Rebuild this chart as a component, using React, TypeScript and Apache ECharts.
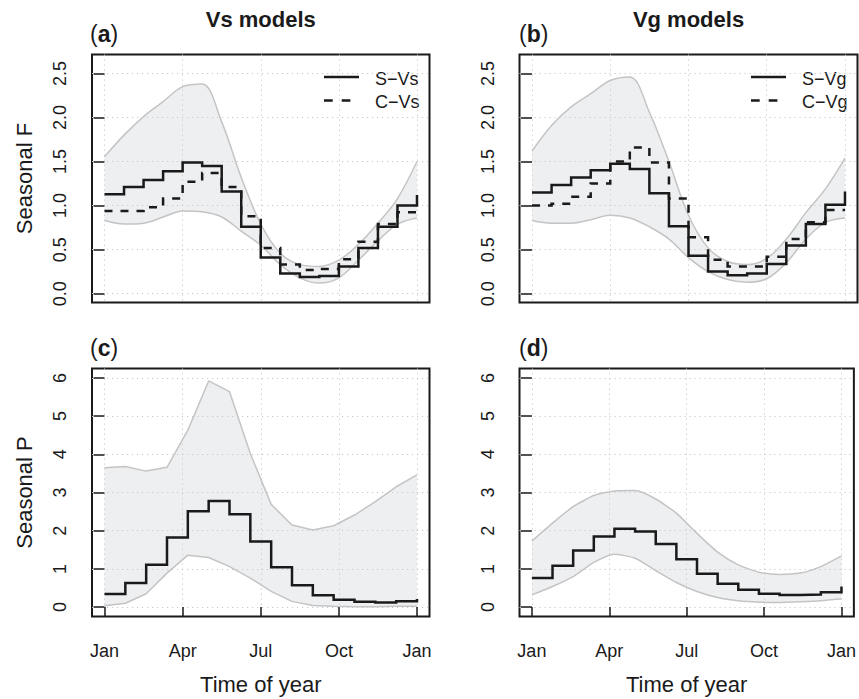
import React, { useEffect, useRef } from 'react';
import * as echarts from 'echarts';

const FONT = '"Liberation Sans", Arial, Helvetica, sans-serif';
const INK = '#1a1a1a';
const BAND_EDGE = '#c4c4c4';
const BAND_FILL = 'rgba(202,205,212,0.32)';
const GRID_DOT = '#c8c8c8';

// Axis ticks
const MONTH_TICKS = [0, 3, 6, 9, 12];
const MONTH_LABELS = ['Jan', 'Apr', 'Jul', 'Oct', 'Jan'];
const F_TICKS = [0, 0.5, 1, 1.5, 2, 2.5];
const P_TICKS = [0, 1, 2, 3, 4, 5, 6];

// Step boundaries (months since Jan)
const F_X = [0, 0.75, 1.5, 2.25, 3, 3.75, 4.5, 5.25, 6, 6.75, 7.5, 8.25, 9, 9.75, 10.5, 11.25, 12];
const P_X = [0, 0.8, 1.6, 2.4, 3.2, 4, 4.8, 5.6, 6.4, 7.2, 8, 8.8, 9.6, 10.4, 11.2, 12];

// (a) Vs models, Seasonal F
const A_S_VS = [1.13, 1.21, 1.29, 1.39, 1.49, 1.45, 1.16, 0.76, 0.41, 0.23, 0.19, 0.2, 0.31, 0.52, 0.76, 1.0, 1.12];
const A_C_VS = [0.94, 0.94, 0.98, 1.08, 1.27, 1.37, 1.21, 0.88, 0.52, 0.33, 0.27, 0.28, 0.39, 0.59, 0.79, 0.925, 0.93];
const A_UPPER = [1.555, 1.8, 2.01, 2.18, 2.35, 2.38, 1.95, 1.32, 0.79, 0.46, 0.33, 0.31, 0.38, 0.56, 0.8, 1.08, 1.5];
const A_LOWER = [0.83, 0.79, 0.8, 0.87, 0.94, 0.93, 0.87, 0.71, 0.55, 0.33, 0.18, 0.12, 0.18, 0.38, 0.6, 0.79, 0.86];

// (b) Vg models, Seasonal F
const B_S_VG = [1.15, 1.235, 1.32, 1.4, 1.475, 1.415, 1.14, 0.765, 0.43, 0.253, 0.21, 0.23, 0.336, 0.547, 0.79, 1.01, 1.16];
const B_C_VG = [1.0, 1.02, 1.1, 1.25, 1.5, 1.66, 1.49, 1.08, 0.64, 0.385, 0.31, 0.31, 0.42, 0.62, 0.81, 0.95, 0.95];
const B_UPPER = [1.62, 1.91, 2.12, 2.27, 2.42, 2.46, 2.06, 1.5, 0.89, 0.52, 0.365, 0.33, 0.4, 0.62, 0.92, 1.19, 1.54];
const B_LOWER = [0.83, 0.8, 0.8, 0.84, 0.89, 0.86, 0.76, 0.62, 0.41, 0.25, 0.16, 0.13, 0.17, 0.35, 0.62, 0.81, 0.86];

// (c) Vs models, Seasonal P
const C_S = [0.34, 0.63, 1.11, 1.82, 2.51, 2.78, 2.43, 1.72, 1.04, 0.57, 0.31, 0.19, 0.14, 0.12, 0.15, 0.21];
const C_UPPER = [3.65, 3.68, 3.56, 3.66, 4.63, 5.92, 5.64, 4.02, 2.69, 2.15, 2.02, 2.13, 2.41, 2.76, 3.15, 3.46];
const C_LOWER = [0.035, 0.1, 0.35, 0.89, 1.36, 1.3, 1.06, 0.76, 0.41, 0.15, 0.044, 0.02, 0.01, 0.01, 0.02, 0.02];

// (d) Vg models, Seasonal P
const D_S = [0.76, 1.08, 1.48, 1.85, 2.05, 1.98, 1.655, 1.254, 0.87, 0.61, 0.453, 0.348, 0.314, 0.33, 0.39, 0.54];
const D_UPPER = [1.73, 2.2, 2.63, 2.92, 3.04, 3.05, 2.83, 2.46, 1.93, 1.44, 1.106, 0.915, 0.854, 0.89, 1.06, 1.34];
const D_LOWER = [0.32, 0.54, 0.8, 1.17, 1.385, 1.28, 0.958, 0.645, 0.41, 0.25, 0.165, 0.13, 0.122, 0.139, 0.165, 0.218];

const pairs = (xs: number[], ys: number[]) => xs.map((x, i) => [x, ys[i]]);
// value first, month second: keeps the stack on the value dimension
const valueFirst = (xs: number[], ys: number[]) => xs.map((x, i) => [ys[i], x]);
const diff = (up: number[], lo: number[]) => up.map((u, i) => +(u - lo[i]).toFixed(4));

const GRIDS = [
  { left: 92, top: 54.5, width: 337.5, height: 248 },
  { left: 519.5, top: 54.5, width: 338, height: 248 },
  { left: 92, top: 368.5, width: 337.5, height: 248 },
  { left: 519.5, top: 368.5, width: 338, height: 248 },
];

function bandSeries(idx: number, xs: number[], up: number[], lo: number[], smooth: number | boolean) {
  const common = {
    type: 'line',
    xAxisIndex: idx,
    yAxisIndex: idx,
    stack: 'band' + idx,
    symbol: 'none',
    smooth,
    silent: true,
    z: 2,
    dimensions: ['v', 'm'],
    encode: { x: 'm', y: 'v' },
    lineStyle: { color: BAND_EDGE, width: 1.5 },
  };
  return [
    { ...common, name: 'lower' + idx, data: valueFirst(xs, lo) },
    { ...common, name: 'upper' + idx, data: valueFirst(xs, diff(up, lo)), areaStyle: { color: BAND_FILL, opacity: 1 } },
  ];
}

function stepSeries(idx: number, name: string, xs: number[], ys: number[], dashed: boolean) {
  return {
    type: 'line',
    name,
    xAxisIndex: idx,
    yAxisIndex: idx,
    step: 'end',
    symbol: 'none',
    z: 4,
    data: pairs(xs, ys),
    lineStyle: { color: INK, width: 2.5, type: dashed ? [8, 8] : 'solid', cap: 'butt', join: 'miter' },
  };
}

const dotted = { color: GRID_DOT, width: 1, type: [1.2, 3.8] };

function xAxisFor(idx: number, showLabels: boolean) {
  return {
    type: 'value',
    gridIndex: idx,
    min: -0.48,
    max: 12.48,
    splitNumber: 5,
    axisLine: { show: false },
    axisTick: {
      show: showLabels,
      customValues: MONTH_TICKS,
      length: 10,
      lineStyle: { color: INK, width: 1.5 },
    },
    axisLabel: {
      show: showLabels,
      customValues: MONTH_TICKS,
      formatter: (v: number) => MONTH_LABELS[MONTH_TICKS.indexOf(Math.round(v))] ?? '',
      margin: 25,
      fontSize: 18,
      fontFamily: FONT,
      color: INK,
    },
    splitLine: { show: true, lineStyle: dotted },
    name: showLabels ? 'Time of year' : '',
    nameLocation: 'middle',
    nameGap: 57,
    nameTextStyle: { fontSize: 22, fontFamily: FONT, color: INK },
  };
}

function yAxisFor(idx: number, isF: boolean, name: string) {
  const ticks = isF ? F_TICKS : P_TICKS;
  return {
    type: 'value',
    gridIndex: idx,
    min: isF ? -0.1 : -0.246,
    max: isF ? 2.715 : 6.246,
    splitNumber: 5,
    axisLine: { show: false },
    axisTick: { show: true, customValues: ticks, length: 11, lineStyle: { color: INK, width: 1.5 } },
    axisLabel: {
      customValues: ticks,
      rotate: 90,
      margin: 23,
      fontSize: 18,
      fontFamily: FONT,
      color: INK,
      formatter: (v: number) => (isF ? v.toFixed(1) : String(Math.round(v))),
    },
    splitLine: { show: true, lineStyle: dotted },
    name,
    nameLocation: 'middle',
    nameGap: 57,
    nameTextStyle: { fontSize: 22, fontFamily: FONT, color: INK },
  };
}

function panelLabel(letter: string, x: number, y: number) {
  return {
    type: 'text',
    x,
    y,
    style: {
      text: '{r|(}{b|' + letter + '}{r|)}',
      textVerticalAlign: 'middle',
      fill: INK,
      rich: {
        r: { fontSize: 23, fontFamily: FONT, fill: INK, color: INK },
        b: { fontSize: 23, fontFamily: FONT, fontWeight: 'bold', fill: INK, color: INK },
      },
    },
  };
}

function legend(x0: number, tx: number, s: string, c: string) {
  return [
    { type: 'line', shape: { x1: x0, y1: 77, x2: x0 + 35, y2: 77 }, style: { stroke: INK, lineWidth: 2.5 } },
    { type: 'line', shape: { x1: x0, y1: 100.5, x2: x0 + 26.5, y2: 100.5 }, style: { stroke: INK, lineWidth: 2.5, lineDash: [8.7, 9] } },
    { type: 'text', x: tx, y: 78.5, style: { text: s, fontSize: 18, fontFamily: FONT, fill: INK, textVerticalAlign: 'middle' } },
    { type: 'text', x: tx, y: 101.5, style: { text: c, fontSize: 18, fontFamily: FONT, fill: INK, textVerticalAlign: 'middle' } },
  ];
}

export default function App() {
  const ref = useRef<HTMLDivElement>(null);
  useEffect(() => {
    if (!ref.current) return;
    const chart = echarts.init(ref.current, undefined, { renderer: 'svg' });
    const option = {
      animation: false,
      backgroundColor: '#ffffff',
      textStyle: { fontFamily: FONT },
      grid: GRIDS.map((g) => ({ ...g, show: true, borderColor: INK, borderWidth: 2, backgroundColor: 'transparent', containLabel: false })),
      xAxis: [xAxisFor(0, false), xAxisFor(1, false), xAxisFor(2, true), xAxisFor(3, true)],
      yAxis: [yAxisFor(0, true, 'Seasonal F'), yAxisFor(1, true, ''), yAxisFor(2, false, 'Seasonal P'), yAxisFor(3, false, '')],
      series: [
        ...bandSeries(0, F_X, A_UPPER, A_LOWER, 0.35),
        stepSeries(0, 'S−Vs', F_X, A_S_VS, false),
        stepSeries(0, 'C−Vs', F_X, A_C_VS, true),
        ...bandSeries(1, F_X, B_UPPER, B_LOWER, 0.35),
        stepSeries(1, 'S−Vg', F_X, B_S_VG, false),
        stepSeries(1, 'C−Vg', F_X, B_C_VG, true),
        ...bandSeries(2, P_X, C_UPPER, C_LOWER, false),
        stepSeries(2, 'S−Vs P', P_X, C_S, false),
        ...bandSeries(3, P_X, D_UPPER, D_LOWER, 0.2),
        stepSeries(3, 'S−Vg P', P_X, D_S, false),
      ],
      graphic: [
        { type: 'text', x: 260.75, y: 19, style: { text: 'Vs models', fontSize: 22, fontWeight: 'bold', fontFamily: FONT, fill: INK, textAlign: 'center', textVerticalAlign: 'middle' } },
        { type: 'text', x: 688.5, y: 19, style: { text: 'Vg models', fontSize: 22, fontWeight: 'bold', fontFamily: FONT, fill: INK, textAlign: 'center', textVerticalAlign: 'middle' } },
        panelLabel('a', 90, 34),
        panelLabel('b', 519, 34),
        panelLabel('c', 90, 348),
        panelLabel('d', 519, 348),
        ...legend(324, 375, 'S−Vs', 'C−Vs'),
        ...legend(751, 802, 'S−Vg', 'C−Vg'),
      ],
    };
    chart.setOption(option as any);
    return () => chart.dispose();
  }, []);
  return <div ref={ref} style={{ position: 'fixed', left: 0, top: 0, width: 859, height: 699, background: '#fff' }} />;
}
